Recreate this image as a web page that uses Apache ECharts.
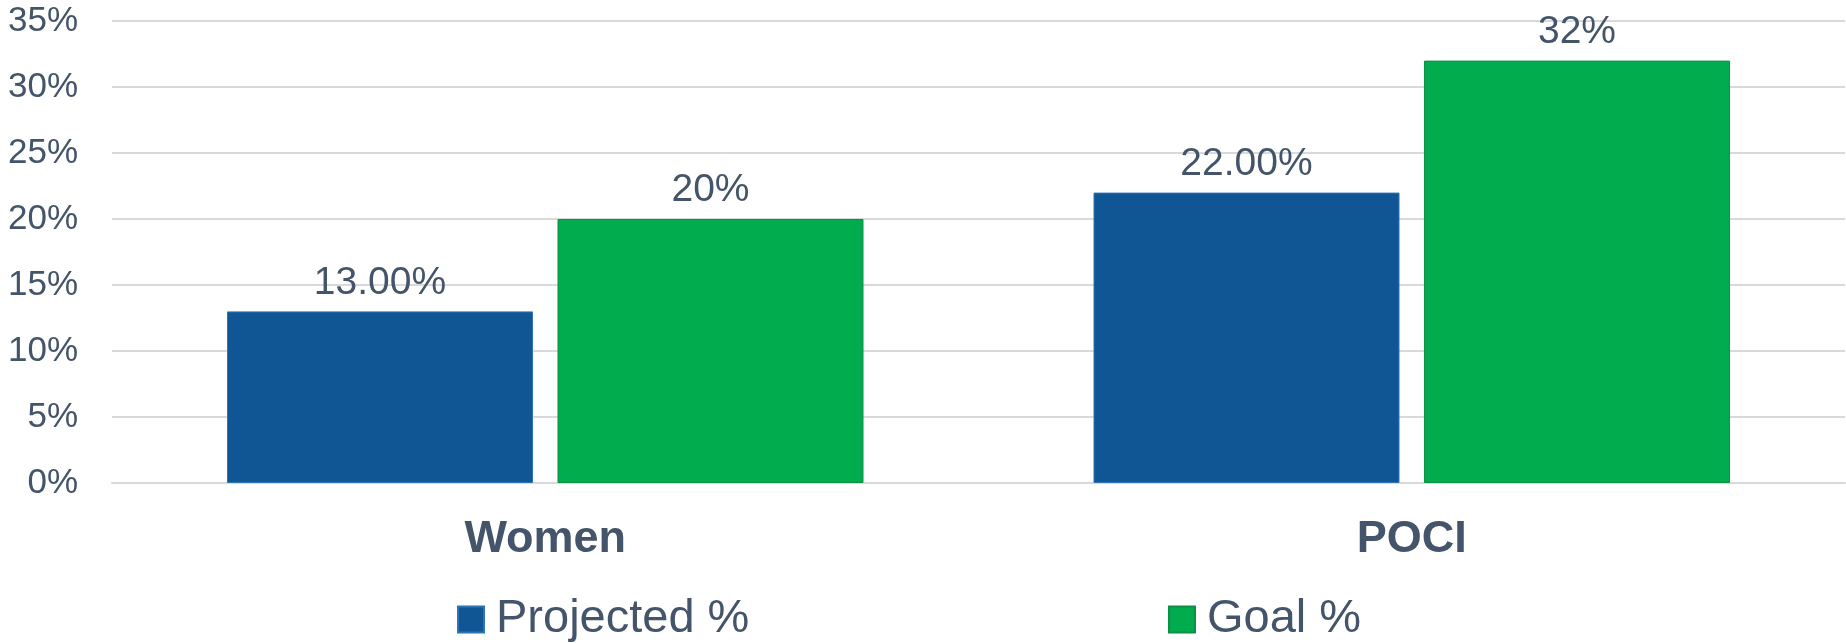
<!DOCTYPE html>
<html>
<head>
<meta charset="utf-8">
<script src="https://cdn.jsdelivr.net/npm/echarts@6/dist/echarts.min.js"></script>
<style>
html,body{margin:0;padding:0;background:#fff;}
#c{width:1846px;height:643px;}
</style>
</head>
<body>
<div id="c"></div>
<script>
const categories = ['Women', 'POCI'];
const projected = [13, 22];
const goal = [20, 32];
const projectedLabels = ['13.00%', '22.00%'];
const goalLabels = ['20%', '32%'];
const yTicks = [0, 5, 10, 15, 20, 25, 30, 35];

const textColor = '#44546A';
const font = 'Liberation Sans, Arial, sans-serif';

const chart = echarts.init(document.getElementById('c'));
chart.setOption({
  backgroundColor: '#fff',
  animation: false,
  grid: {left: 112, right: 1, top: 21, bottom: 160, containLabel: false},
  legend: [
    {
      data: ['Projected %'], left: 457, top: 596, padding: 0,
      itemWidth: 26, itemHeight: 26, icon: 'rect',
      textStyle: {color: textColor, fontSize: 47, fontFamily: font, padding: [0, 0, 0, 7]}
    },
    {
      data: ['Goal %'], left: 1168, top: 596, padding: 0,
      itemWidth: 26, itemHeight: 26, icon: 'rect',
      textStyle: {color: textColor, fontSize: 47, fontFamily: font, padding: [0, 0, 0, 7]}
    }
  ],
  xAxis: {
    type: 'category',
    data: categories,
    axisTick: {show: false},
    axisLine: {show: true, lineStyle: {color: '#d9d9d9', width: 2}},
    axisLabel: {color: textColor, fontSize: 45, fontWeight: 'bold', fontFamily: font, margin: 34}
  },
  yAxis: {
    type: 'value',
    min: yTicks[0],
    max: yTicks[yTicks.length - 1],
    interval: 5,
    axisLine: {show: false},
    axisTick: {show: false},
    splitLine: {lineStyle: {color: '#d9d9d9', width: 2}},
    axisLabel: {color: textColor, fontSize: 35, fontFamily: font, margin: 34, formatter: v => v + '%'}
  },
  series: [
    {
      name: 'Projected %',
      type: 'bar',
      data: projected,
      barWidth: 306,
      barGap: '8%',
      itemStyle: {color: '#105694', borderColor: '#2E75B6', borderWidth: 1},
      label: {
        show: true, position: 'top', distance: 9,
        color: textColor, fontSize: 39, fontFamily: font,
        formatter: p => projectedLabels[p.dataIndex]
      }
    },
    {
      name: 'Goal %',
      type: 'bar',
      data: goal,
      barWidth: 306,
      barGap: '8%',
      itemStyle: {color: '#00AC4E', borderColor: '#0E8F48', borderWidth: 1},
      label: {
        show: true, position: 'top', distance: 9,
        color: textColor, fontSize: 39, fontFamily: font,
        formatter: p => goalLabels[p.dataIndex]
      }
    }
  ]
});
</script>
</body>
</html>
